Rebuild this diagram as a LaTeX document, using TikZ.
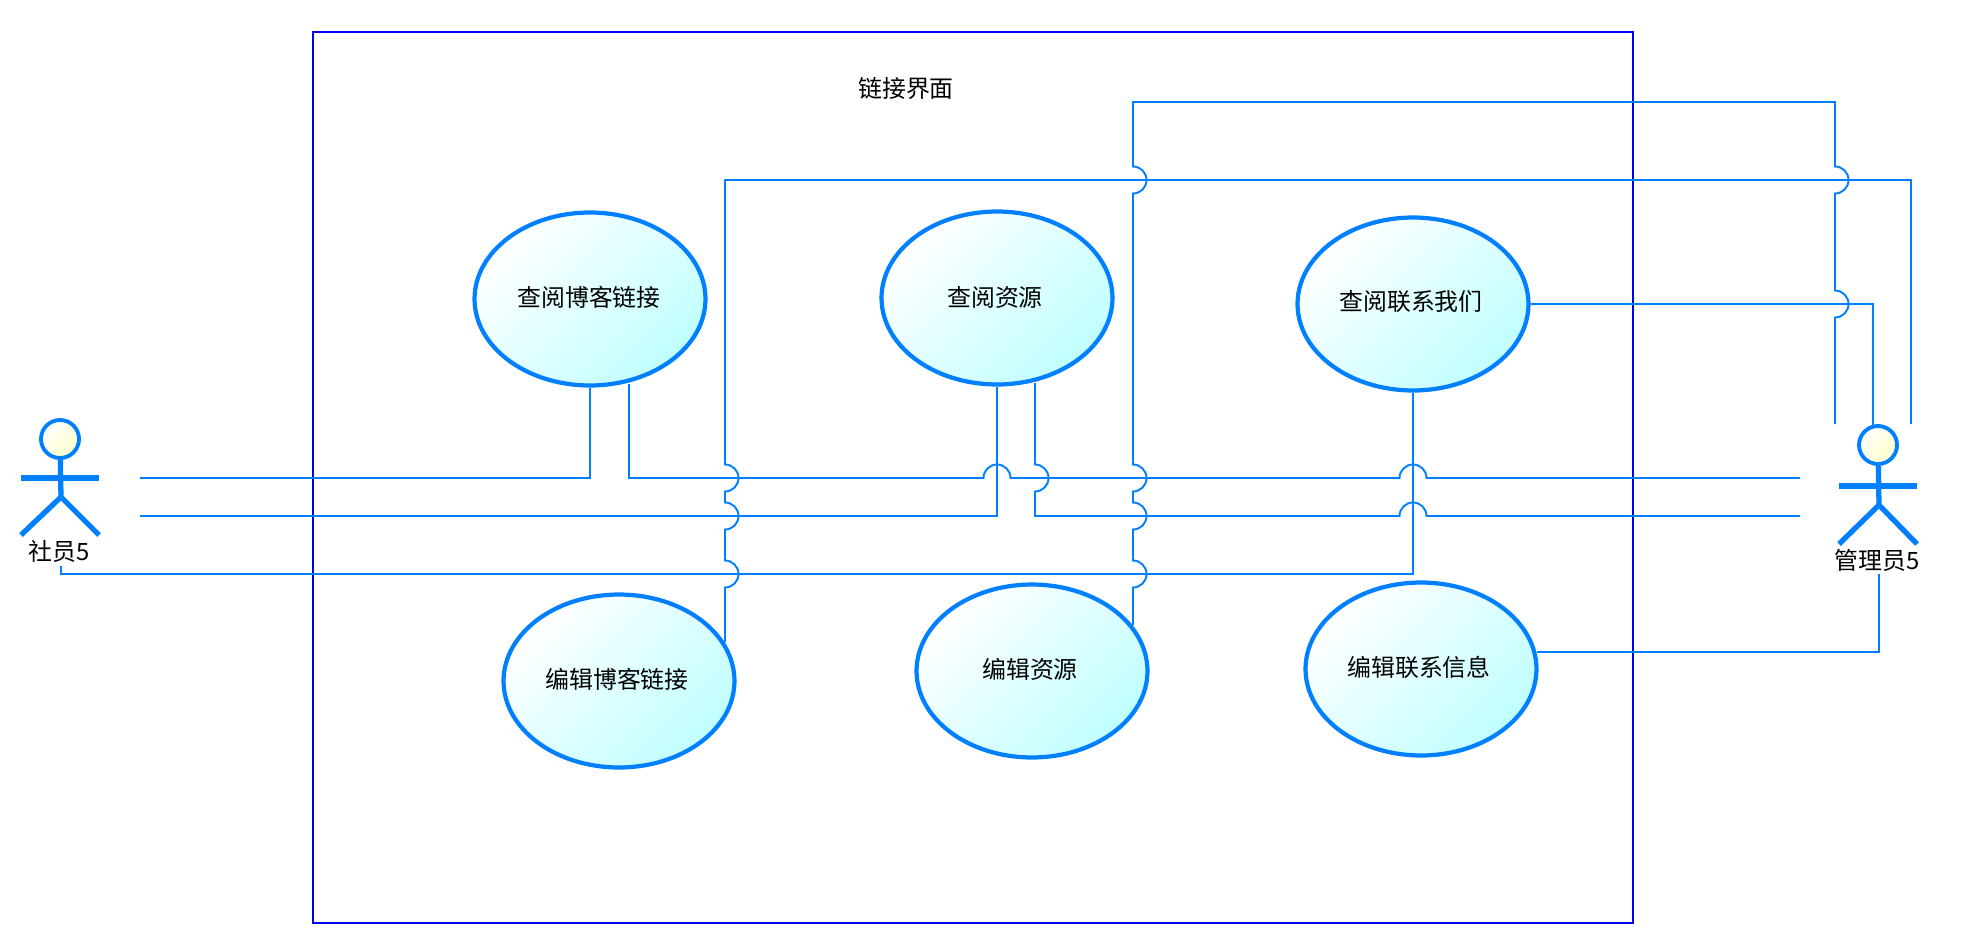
\documentclass[tikz,border=0pt]{standalone}
\usepackage{fontspec}
\setmainfont{Noto Sans CJK SC}
\usetikzlibrary{shapes.geometric}
\definecolor{umlline}{HTML}{0080FF}
\definecolor{umlframe}{HTML}{0000F0}
\definecolor{umlfill}{HTML}{C0FFFF}
\definecolor{umlhead}{HTML}{FFFFC8}
\tikzset{
  usecase/.style={ellipse,draw=umlline,line width=2.4pt,inner sep=0pt,minimum width=4.62cm,minimum height=3.46cm,shading=axis,left color=white,right color=umlfill,shading angle=45,font=\fontsize{13.6}{16}\selectfont},
  head/.style={circle,draw=umlline,line width=2.2pt,inner sep=0pt,minimum size=0.76cm,shading=axis,left color=white,right color=umlhead,shading angle=45},
  limb/.style={draw=umlline,line width=3pt},
  wire/.style={draw=umlline,line width=1.1pt},
  actorname/.style={inner sep=0pt,font=\fontsize{13.6}{16}\selectfont}
}
\newcommand{\hopr}{0.27cm}
\newcommand{\hopv}[2]{-- (#1,#2+13.5) arc[start angle=-90,end angle=90,radius=\hopr]}
\newcommand{\hopd}[2]{-- (#1,#2-13.5) arc[start angle=90,end angle=-90,radius=\hopr]}
\newcommand{\hoph}[2]{-- (#1-13.5,#2) arc[start angle=180,end angle=0,radius=\hopr]}
\begin{document}
\begin{tikzpicture}[x=0.02cm,y=-0.02cm]
\useasboundingbox (0,0) rectangle (1962,947);
\draw[draw=umlframe,line width=1.1pt] (313,32) rectangle (1633,923);
\draw (906,88) node[actorname](title) {链接界面};
% use cases
\draw (590,299) node[usecase](viewblog) {};
\draw (997,298) node[usecase](viewres) {};
\draw (1413,304) node[usecase](viewcontact) {};
\draw (619,681) node[usecase](editblog) {};
\draw (1032,671) node[usecase](editres) {};
\draw (1421,669) node[usecase](editcontact) {};
\draw (589,297) node[actorname](viewblogtext) {查阅博客链接};
\draw (995,297) node[actorname](viewrestext) {查阅资源};
\draw (1411,302) node[actorname](viewcontacttext) {查阅联系我们};
\draw (617,679) node[actorname](editblogtext) {编辑博客链接};
\draw (1030,669) node[actorname](editrestext) {编辑资源};
\draw (1419,667) node[actorname](editcontacttext) {编辑联系信息};
% member
\draw (60,439) node[head](memberhead) {};
\coordinate (memberhip) at (61,497);
\draw[limb] (memberhead) -- (memberhip);
\draw[limb] (21,478) -- (99,478);
\draw[limb] (21,535) -- (memberhip) -- (99,535);
\draw (59,551) node[actorname](member) {社员5};
% admin
\draw (1878,445) node[head](adminhead) {};
\coordinate (adminhip) at (1879,505);
\draw[limb] (adminhead) -- (adminhip);
\draw[limb] (1839,486) -- (1917,486);
\draw[limb] (1839,544) -- (adminhip) -- (1917,544);
\draw (1877,560) node[actorname](admin) {管理员5};
% free ends
\coordinate (membera) at (140,478);
\coordinate (memberb) at (140,516);
\coordinate (memberc) at (61,566);
\coordinate (admina) at (1800,478);
\coordinate (adminb) at (1800,516);
\coordinate (adminc) at (1835,424);
\coordinate (admind) at (1911,424);
\coordinate (admine) at (1873,425);
\coordinate (adminf) at (1879,574);
\coordinate (viewblogr) at (629,384);
\coordinate (viewresr) at (1035,383);
\coordinate (editblogr) at (725,642);
\coordinate (editresr) at (1133,625);
\coordinate (editcontactr) at (1537,652);
% member to use cases
\draw[wire] (membera) -| (viewblog.south);
\draw[wire] (memberb) -| (viewres.south);
\draw[wire] (memberc) -- (61,574) -| (viewcontact.south);
% use cases to admin
\draw[wire] (viewblogr) -- (629,478) \hoph{997}{478} \hoph{1413}{478} -- (admina);
\draw[wire] (viewresr) \hopd{1035}{478} -- (1035,516) \hoph{1413}{516} -- (adminb);
\draw[wire] (viewcontact.east) -| (admine);
\draw[wire] (adminf) |- (editcontactr);
\draw[wire] (editblogr) \hopv{725}{574} \hopv{725}{516} \hopv{725}{478} -- (725,180) -| (admind);
\draw[wire] (editresr) \hopv{1133}{574} \hopv{1133}{516} \hopv{1133}{478} \hopv{1133}{180} -- (1133,102) -- (1835,102) -- (1835,166.5) arc[start angle=90,end angle=-90,radius=\hopr] \hopd{1835}{304} -- (adminc);
\end{tikzpicture}
\end{document}
